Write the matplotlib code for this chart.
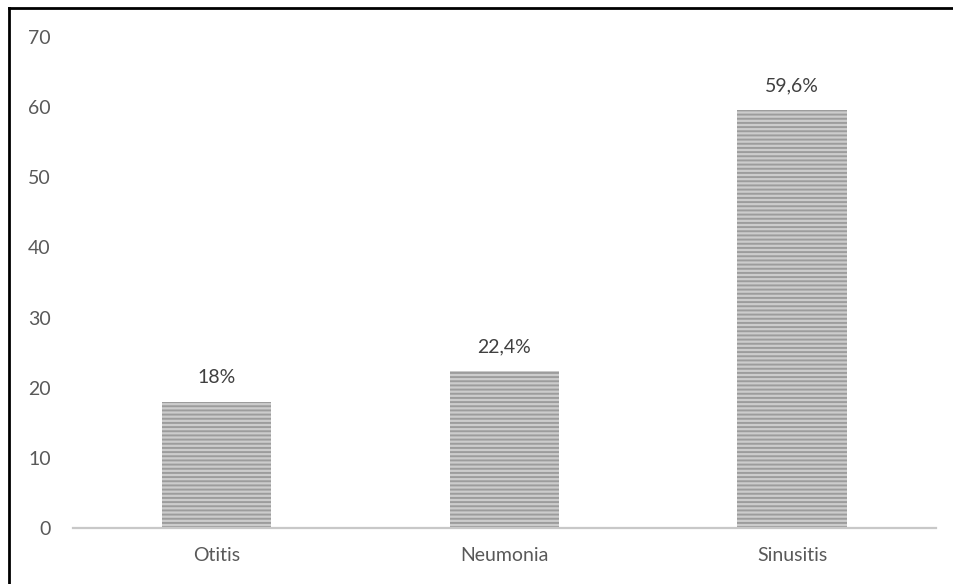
import matplotlib
matplotlib.use("Agg")
import matplotlib.pyplot as plt
from matplotlib.lines import Line2D

categories = ["Otitis", "Neumonia", "Sinusitis"]
values = [18.0, 22.4, 59.6]
value_labels = ["18%", "22,4%", "59,6%"]
y_ticks = [0, 10, 20, 30, 40, 50, 60, 70]

plt.rcParams["font.family"] = ["Lato", "DejaVu Sans"]
plt.rcParams["hatch.color"] = "#9c9c9c"
plt.rcParams["hatch.linewidth"] = 1.4

fig = plt.figure(figsize=(9.54, 5.84), dpi=100)
ax = fig.add_axes([0.0765, 0.0959, 0.9045, 0.8407])

x = range(len(categories))
bars = ax.bar(x, values, width=0.38, color="#cccccc", hatch="----",
              edgecolor="#9c9c9c", linewidth=0)

for b, lab in zip(bars, value_labels):
    ax.annotate(lab, (b.get_x() + b.get_width() / 2, b.get_height()),
                xytext=(0, 11), textcoords="offset points",
                ha="center", va="bottom", fontsize=14, color="#404040")

ax.set_xlim(-0.5, 2.5)
ax.set_ylim(0, 70)
ax.set_yticks(y_ticks)
ax.set_xticks(list(x))
ax.set_xticklabels(categories)
ax.tick_params(axis="both", length=0, labelsize=14, labelcolor="#595959")
ax.tick_params(axis="y", pad=16)
ax.tick_params(axis="x", pad=14)

for s in ["top", "right", "left"]:
    ax.spines[s].set_visible(False)
ax.spines["bottom"].set_color("#c8c8c8")
ax.spines["bottom"].set_linewidth(1.6)

# frame (only top and left visible in the crop)
fig.add_artist(Line2D([0.0094, 1.0], [0.9855, 0.9855], transform=fig.transFigure,
                      color="black", linewidth=2))
fig.add_artist(Line2D([0.0094, 0.0094], [0.0, 0.9855], transform=fig.transFigure,
                      color="black", linewidth=2))

fig.savefig("out.png", dpi=100)
